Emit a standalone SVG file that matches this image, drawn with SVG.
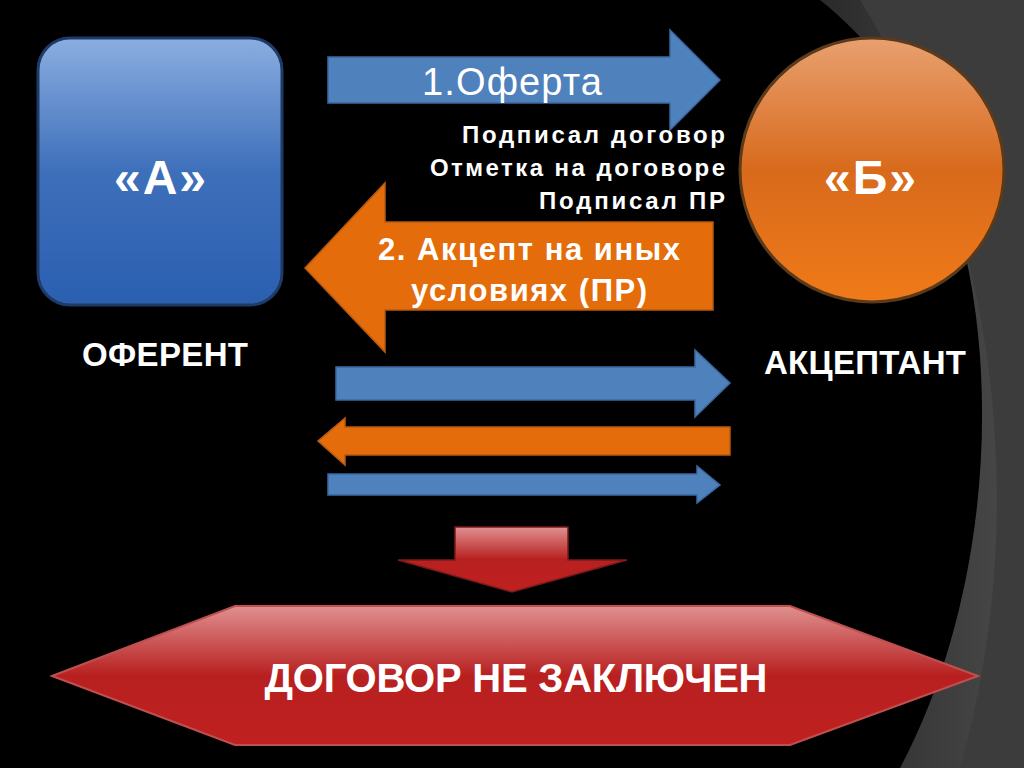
<svg xmlns="http://www.w3.org/2000/svg" width="1024" height="768" viewBox="0 0 1024 768">
<defs>
<linearGradient id="gb" x1="0" y1="0" x2="0" y2="1"><stop offset="0" stop-color="#8aaee0"/><stop offset="0.5" stop-color="#3e6fba"/><stop offset="1" stop-color="#2a5fb0"/></linearGradient>
<linearGradient id="go" x1="0" y1="0" x2="0" y2="1"><stop offset="0" stop-color="#e8a070"/><stop offset="0.5" stop-color="#d86a1c"/><stop offset="1" stop-color="#f07a18"/></linearGradient>
<linearGradient id="gr" x1="0" y1="0" x2="0" y2="1"><stop offset="0" stop-color="#e09090"/><stop offset="0.5" stop-color="#b82020"/><stop offset="1" stop-color="#c02020"/></linearGradient>
<linearGradient id="gbg" x1="0" y1="0" x2="1" y2="0"><stop offset="0" stop-color="#2a2a2a"/><stop offset="1" stop-color="#4a4a4a"/></linearGradient>
</defs>
<style>
.w{fill:#fff;font-family:"Liberation Sans",Arial,sans-serif}
.b{font-weight:bold}
.blue{fill:#4f81bd;stroke:#3a6aa0;stroke-width:1.5}
.or{fill:#e46c0a;stroke:#b85a10;stroke-width:1.5}
</style>
<rect width="1024" height="768" fill="#000"/>
<path d="M820 0 H1024 V768 H900 C990 600 1010 350 940 170 C910 90 870 40 820 0 Z" fill="url(#gbg)"/>
<path d="M860 0 H1024 V768 H960 C1020 560 1020 260 860 0 Z" fill="#3c3c3c"/>
<g id="nodeA"><rect x="38" y="38" width="244" height="267" rx="32" fill="url(#gb)" stroke="#1f3a66" stroke-width="3"/>
<text class="w b" x="160" y="194" font-size="48" text-anchor="middle" textLength="92">«А»</text></g>
<text class="w b" x="165" y="366" font-size="33" text-anchor="middle" textLength="166">ОФЕРЕНТ</text>
<g id="nodeB"><circle cx="872" cy="170" r="132" fill="url(#go)" stroke="#5a3a1a" stroke-width="3"/>
<text class="w b" x="870" y="194" font-size="48" text-anchor="middle" textLength="92">«Б»</text></g>
<text class="w b" x="865" y="374" font-size="33" text-anchor="middle" textLength="202">АКЦЕПТАНТ</text>
<g id="connectors">
<path class="blue" d="M328 57 H670 V30 L720 80 L670 130 V103 H328 Z"/>
<path class="or" d="M713 222 H385 V183 L305 268 L385 352 V310 H713 Z"/>
<path class="blue" d="M336 367 H695 V350 L730 383 L695 417 V400 H336 Z"/>
<path class="or" d="M730 427 H345 V418 L318 441 L345 465 V455 H730 Z"/>
<path class="blue" d="M328 474 H697 V466 L720 485 L697 503 V495 H328 Z"/>
<path d="M455 527 H568 V560 H627 L512 592 L398 560 H455 Z" fill="url(#gr)" stroke="#7a1a1a" stroke-width="1.5"/>
</g>
<text class="w" x="512" y="95" font-size="38" text-anchor="middle" textLength="180">1.Оферта</text>
<g class="w b" font-size="24" text-anchor="end">
<text x="725" y="143" textLength="263">Подписал договор</text>
<text x="725" y="176" textLength="295">Отметка на договоре</text>
<text x="725" y="209" textLength="186">Подписал ПР</text>
</g>
<text class="w b" x="529" y="260" font-size="31" text-anchor="middle" textLength="302">2. Акцепт на иных</text>
<text class="w b" x="529" y="301" font-size="31" text-anchor="middle" textLength="236">условиях (ПР)</text>
<g id="result"><path d="M52 676 L235 606 H790 L978 676 L790 745 H235 Z" fill="url(#gr)" stroke="#c05050" stroke-width="2"/>
<text class="w b" x="516" y="692" font-size="40" text-anchor="middle" textLength="503">ДОГОВОР НЕ ЗАКЛЮЧЕН</text></g>
</svg>
